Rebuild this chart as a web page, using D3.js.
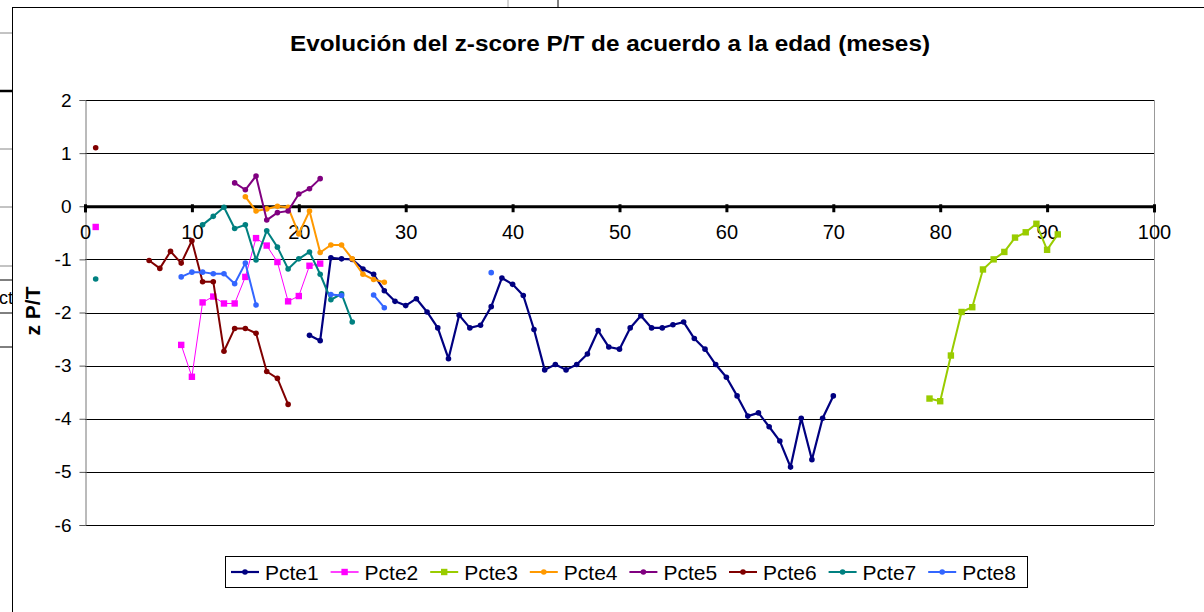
<html>
<head>
<meta charset="utf-8">
<style>
  body { margin: 0; background: #fff; }
  svg text { font-family: "Liberation Sans", Arial, sans-serif; fill: #000; }
  .grid line { stroke: #000; stroke-width: 1; }
</style>
</head>
<body>
<script src="https://cdn.jsdelivr.net/npm/d3@7"></script>
<script>
// [age in months, z-score P/T]; null breaks the line
var pcte1 = [[21,-2.43],[22,-2.53],[23,-0.97],[24,-0.99],[25,-1.0],[26,-1.18],[27,-1.28],[28,-1.59],
  [29,-1.79],[30,-1.87],[31,-1.74],[32,-1.99],[33,-2.29],[34,-2.87],[35,-2.05],[36,-2.29],[37,-2.24],
  [38,-1.89],[39,-1.35],[40,-1.47],[41,-1.68],[42,-2.32],[43,-3.08],[44,-2.98],[45,-3.08],[46,-2.98],
  [47,-2.78],[48,-2.34],[49,-2.65],[50,-2.69],[51,-2.29],[52,-2.06],[53,-2.29],[54,-2.29],[55,-2.23],
  [56,-2.18],[57,-2.49],[58,-2.69],[59,-2.98],[60,-3.22],[61,-3.57],[62,-3.95],[63,-3.89],[64,-4.15],
  [65,-4.42],[66,-4.91],[67,-3.99],[68,-4.77],[69,-3.99],[70,-3.57]];
var pcte2 = [[1,-0.39], null, [9,-2.61],[10,-3.21],[11,-1.81],[12,-1.70],[13,-1.83],[14,-1.83],[15,-1.33],
  [16,-0.60],[17,-0.74],[18,-1.05],[19,-1.79],[20,-1.69],[21,-1.12],[22,-1.08]];
var pcte3 = [[79,-3.62],[80,-3.67],[81,-2.81],[82,-1.99],[83,-1.90],[84,-1.19],[85,-1.0],[86,-0.86],
  [87,-0.59],[88,-0.49],[89,-0.33],[90,-0.82],[91,-0.53]];
var pcte4 = [[15,0.18],[16,-0.09],[17,-0.05],[18,0.0],[19,-0.02],[20,-0.52],[21,-0.09],[22,-0.87],
  [23,-0.73],[24,-0.73],[25,-0.99],[26,-1.28],[27,-1.38],[28,-1.43]];
var pcte5 = [[14,0.44],[15,0.31],[16,0.57],[17,-0.26],[18,-0.12],[19,-0.09],[20,0.23],[21,0.33],[22,0.52]];
var pcte6 = [[1,1.10], null, [6,-1.02],[7,-1.17],[8,-0.85],[9,-1.07],[10,-0.65],[11,-1.42],[12,-1.42],
  [13,-2.73],[14,-2.30],[15,-2.30],[16,-2.39],[17,-3.11],[18,-3.24],[19,-3.73]];
var pcte7 = [[1,-1.37], null, [11,-0.35],[12,-0.19],[13,-0.02],[14,-0.42],[15,-0.35],[16,-1.01],[17,-0.46],
  [18,-0.77],[19,-1.18],[20,-0.99],[21,-0.86],[22,-1.28],[23,-1.76],[24,-1.65],[25,-2.18]];
var pcte8 = [[9,-1.33],[10,-1.24],[11,-1.24],[12,-1.27],[13,-1.27],[14,-1.46],[15,-1.07],[16,-1.86], null,
  [23,-1.66],[24,-1.68], null, [27,-1.67],[28,-1.91], null, [38,-1.25]];

var names = ["Pcte1","Pcte2","Pcte3","Pcte4","Pcte5","Pcte6","Pcte7","Pcte8"];
var seriesData = [pcte1, pcte2, pcte3, pcte4, pcte5, pcte6, pcte7, pcte8];
var colors = ["#000080","#FF00FF","#99CC00","#FF9900","#800080","#800000","#008080","#3366FF"];
var markers = ["circle","square","square","circle","circle","circle","circle","circle"];
var widths = [2.2, 1, 2, 2, 2, 2, 2, 2];

var xTicks = [0,10,20,30,40,50,60,70,80,90,100];
var yTicks = [2,1,0,-1,-2,-3,-4,-5,-6];

var title = "Evolución del z-score P/T de acuerdo a la edad (meses)";
var yTitle = "z P/T";

var width = 1204, height = 612;

var svg = d3.select("body").append("svg")
    .attr("width", width)
    .attr("height", height);

// spreadsheet bits peeking around the chart
var sheet = svg.append("g");
[[33,"#888",1],[91,"#000",2.5],[149,"#888",1],[207,"#888",1],[266,"#888",1],[280,"#000",1],[313,"#000",1],[347,"#000",1]]
  .forEach(function(l) {
    sheet.append("line").attr("x1", 0).attr("x2", 12).attr("y1", l[0]).attr("y2", l[0])
      .attr("stroke", l[1]).attr("stroke-width", l[2]);
  });
sheet.append("text").attr("x", -1).attr("y", 304).attr("font-size", 18).text("ct");
sheet.append("line").attr("x1", 508).attr("x2", 508).attr("y1", 0).attr("y2", 7).attr("stroke", "#aaa");
sheet.append("line").attr("x1", 558).attr("x2", 558).attr("y1", 0).attr("y2", 7).attr("stroke", "#000");

// chart area
svg.append("rect")
    .attr("x", 12.5).attr("y", 7.5)
    .attr("width", 1300).attr("height", 700)
    .attr("fill", "#fff").attr("stroke", "#000");

var x = d3.scaleLinear().domain([0, 100]).range([85, 1154]);
var y = d3.scaleLinear().domain([-6, 2]).range([525, 100]);

// gridlines
svg.append("g").attr("class", "grid")
  .selectAll("line").data(yTicks.filter(function(d) { return d !== 0; }))
  .enter().append("line")
    .attr("x1", x(0)).attr("x2", x(100))
    .attr("y1", function(d) { return Math.round(y(d)) + 0.5; })
    .attr("y2", function(d) { return Math.round(y(d)) + 0.5; });

// plot right border
svg.append("line").attr("x1", x(100) + 0.5).attr("x2", x(100) + 0.5).attr("y1", y(2)).attr("y2", y(-6))
    .attr("stroke", "#999");

var plain = function(d) { return String(d); };

// y axis
var yAxis = svg.append("g")
    .attr("transform", "translate(" + (x(0) + 0.5) + ",0)")
    .call(d3.axisLeft(y).tickValues(yTicks).tickSize(6).tickPadding(8).tickFormat(plain));
yAxis.select(".domain").attr("stroke", "#777");
yAxis.selectAll(".tick line").attr("stroke", "#555");
yAxis.selectAll("text").attr("font-size", 19).attr("font-family", "Liberation Sans, Arial, sans-serif");

// x axis sits on z = 0
var xAxis = svg.append("g")
    .attr("transform", "translate(0," + y(0) + ")")
    .call(d3.axisBottom(x).tickValues(xTicks).tickSize(6).tickPadding(13).tickFormat(plain));
xAxis.select(".domain").attr("stroke", "#000").attr("stroke-width", 3);
xAxis.selectAll(".tick line").attr("stroke", "#000").attr("stroke-width", 3).attr("y1", -2);
xAxis.selectAll("text").attr("font-size", 20).attr("font-family", "Liberation Sans, Arial, sans-serif");

// series
var line = d3.line()
    .defined(function(d) { return d !== null; })
    .x(function(d) { return x(d[0]); })
    .y(function(d) { return y(d[1]); });

function drawMarker(g, kind, cx, cy, color) {
  if (kind === "square") {
    g.append("rect").attr("x", cx - 3.2).attr("y", cy - 3.2).attr("width", 6.4).attr("height", 6.4).attr("fill", color);
  } else {
    g.append("circle").attr("cx", cx).attr("cy", cy).attr("r", 2.8).attr("fill", color);
  }
}

seriesData.forEach(function(data, i) {
  var g = svg.append("g");
  g.append("path")
      .attr("d", line(data))
      .attr("fill", "none")
      .attr("stroke", colors[i])
      .attr("stroke-width", widths[i])
      .attr("stroke-linejoin", "round");
  data.forEach(function(d) {
    if (d) drawMarker(g, markers[i], x(d[0]), y(d[1]), colors[i]);
  });
});

// titles
svg.append("text")
    .attr("x", 610).attr("y", 51)
    .attr("text-anchor", "middle")
    .attr("font-size", 22).attr("font-weight", "bold")
    .attr("textLength", 640).attr("lengthAdjust", "spacingAndGlyphs")
    .text(title);

svg.append("text")
    .attr("transform", "translate(40,311) rotate(-90)")
    .attr("text-anchor", "middle")
    .attr("font-size", 21).attr("font-weight", "bold")
    .text(yTitle);

// legend
var legend = svg.append("g");
legend.append("rect")
    .attr("x", 225.5).attr("y", 556.5).attr("width", 802).attr("height", 31)
    .attr("fill", "#fff").attr("stroke", "#000");
names.forEach(function(n, i) {
  var lx = 231 + i * 99.6, ly = 572;
  legend.append("line").attr("x1", lx).attr("x2", lx + 28).attr("y1", ly).attr("y2", ly)
      .attr("stroke", colors[i]).attr("stroke-width", widths[i] < 1.5 ? 1.5 : widths[i]);
  drawMarker(legend, markers[i], lx + 14, ly, colors[i]);
  legend.append("text").attr("x", lx + 34).attr("y", ly + 7.5)
      .attr("font-size", 21).text(n);
});
</script>
</body>
</html>
